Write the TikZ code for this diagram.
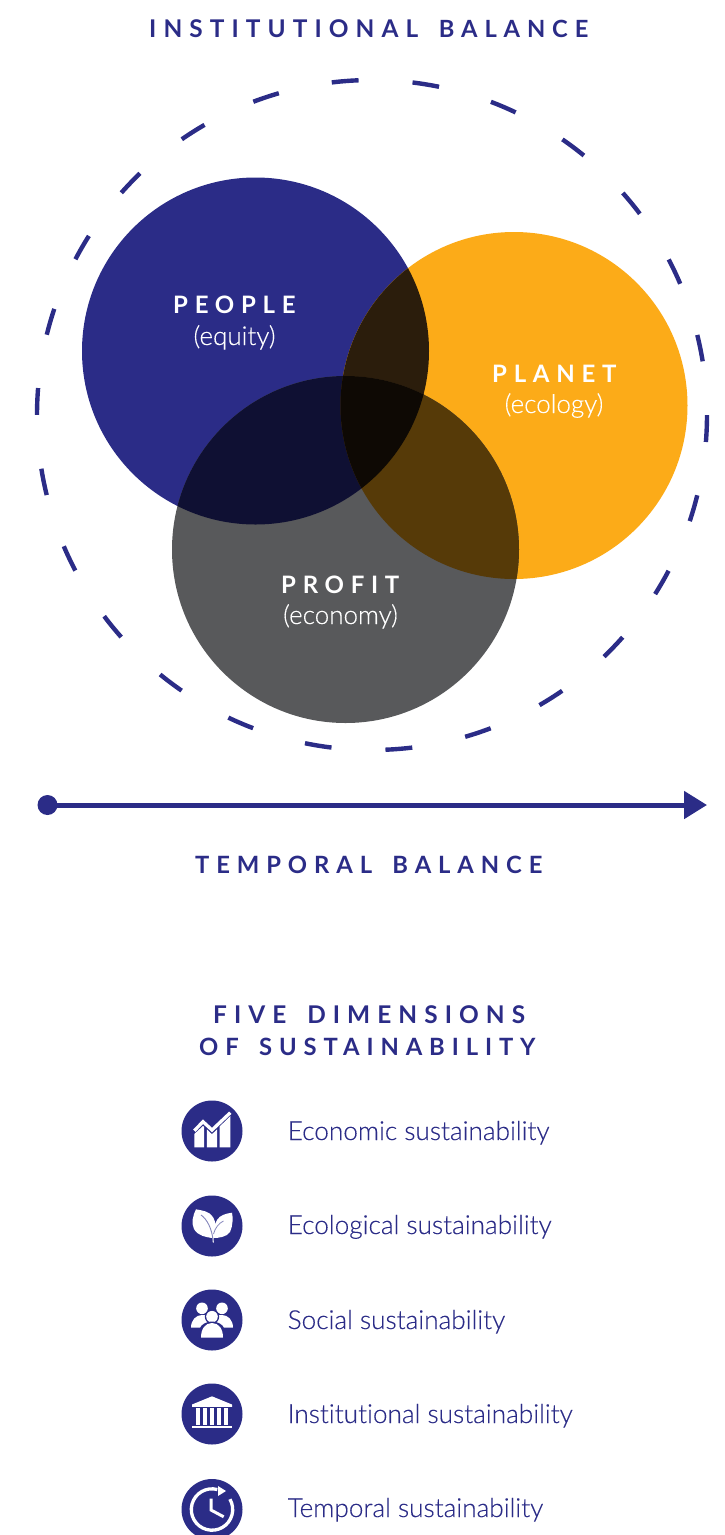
\documentclass[tikz,border=0pt]{standalone}
\usepackage{fontspec}
\setmainfont{Lato}
\newfontfamily\headf[LetterSpace=29,WordSpace=1.6]{Lato Bold}
\newfontfamily\capf[LetterSpace=28]{Lato Bold}
\newfontfamily\bodyf[Ligatures=NoCommon,FakeBold=0.25]{Lato Light}
\usetikzlibrary{arrows.meta}
\definecolor{navy}{HTML}{2B2C87}
\definecolor{amber}{HTML}{FCAB18}
\definecolor{slate}{HTML}{58595B}
\definecolor{ovNA}{HTML}{2B1D0C}
\definecolor{ovNS}{HTML}{0F1033}
\definecolor{ovAS}{HTML}{563A08}
\definecolor{ovAll}{HTML}{0E0904}
\definecolor{vein}{HTML}{8586BC}
\tikzset{
  x=1pt,y=1pt,
  venn/.style={circle,inner sep=0pt,minimum size=347pt,draw=none},
  head/.style={anchor=base west,inner sep=0pt,text=navy,font=\fontsize{24.4}{24}\headf},
  headb/.style={anchor=base west,inner sep=0pt,text=navy,font=\fontsize{23.8}{24}\headf},
  vcap/.style={anchor=base west,inner sep=0pt,text=white,font=\fontsize{24}{24}\capf},
  vsub/.style={anchor=base,inner sep=0pt,text=white,font=\fontsize{26}{26}\bodyf},
  item/.style={anchor=base west,inner sep=0pt,text=navy,font=\fontsize{26.2}{26}\bodyf},
  badge/.style={circle,fill=navy,inner sep=0pt,minimum size=61pt},
  ring/.style={draw=navy,line width=4.4pt},
}
\begin{document}
\begin{tikzpicture}
\useasboundingbox (0,0) rectangle (724,-1535);
% dashed ring
\coordinate (ringc) at (372,-415);
\foreach \k in {0,...,25}{
  \pgfmathsetmacro\st{94.6-13.846*\k+2.3}
  \draw[ring] (ringc) ++(\st:335) arc[start angle=\st,delta angle=-4.6,radius=335];
}
% venn
\node[venn,fill=navy] (people) at (255.5,-351) {};
\node[venn,fill=amber] (planet) at (514,-405.5) {};
\node[venn,fill=slate] (profit) at (345.5,-549.5) {};
\begin{scope}
  \clip (255.5,-351) circle[radius=173.5];
  \fill[ovNA] (514,-405.5) circle[radius=173.5];
  \fill[ovNS] (345.5,-549.5) circle[radius=173.5];
\end{scope}
\begin{scope}
  \clip (514,-405.5) circle[radius=173.5];
  \fill[ovAS] (345.5,-549.5) circle[radius=173.5];
\end{scope}
\begin{scope}
  \clip (255.5,-351) circle[radius=173.5];
  \clip (514,-405.5) circle[radius=173.5];
  \fill[ovAll] (345.5,-549.5) circle[radius=173.5];
\end{scope}
% labels
\node[head] (t1) at (149,-37) {INSTITUTIONAL {\fontsize{23.7}{24}\selectfont BALANCE}};
\node[vcap] (l1) at (173,-313) {PEOPLE};
\node[vsub] (s1) at (234.5,-345) {(equity)};
\node[vcap] (l2) at (492,-382) {PLANET};
\node[vsub] (s2) at (554,-413) {(ecology)};
\node[vcap] (l3) at (281,-593) {PROFIT};
\node[vsub] (s3) at (340.5,-624) {(economy)};
% temporal arrow
\node[circle,fill=navy,inner sep=0pt,minimum size=20pt] (dot) at (47.5,-805) {};
\coordinate (tip) at (707,-805);
\draw[navy,line width=5pt,shorten <=-2pt,-{Triangle[width=27pt,length=23pt]}] (dot) -- (tip);
\node[headb] (t2) at (195,-873) {TEMPORAL BALANCE};
\node[head] (t3) at (213,-1023) {FIVE DIMENSIONS};
\node[headb] (t4) at (199,-1055) {OF SUSTAINABILITY};
% list
\node[badge] (b1) at (212,-1131) {};
\node[badge] (b2) at (212,-1226) {};
\node[badge] (b3) at (212,-1320) {};
\node[badge] (b4) at (212,-1414) {};
\node[badge] (b5) at (212,-1509.5) {};
\node[item] (i1) at (287.5,-1140) {Economic sustainability};
\node[item] (i2) at (287.5,-1234) {Ecological sustainability};
\node[item] (i3) at (287.5,-1329) {Social sustainability};
\node[item] (i4) at (287.5,-1423) {Institutional sustainability};
\node[item] (i5) at (287.5,-1517) {Temporal sustainability};
% chart icon
\begin{scope}[shift={(b1.center)}]
  \fill[white] (-17.7,-16.3) -- (-17.7,-3) -- (-9,5) -- (-8,4.2) -- (-8,-16.3) -- cycle;
  \fill[white] (-5.2,-16.3) -- (-5.2,1.7) -- (0,-3.2) -- (5,1.7) -- (5,-16.3) -- cycle;
  \fill[white] (7.5,-16.3) -- (7.5,4.3) -- (18.3,15) -- (18.3,-16.3) -- cycle;
  \draw[white,line width=3.3pt,miter limit=4] (-17.7,0.3) -- (-9,9.3) -- (0,1) -- (18.3,18.3);
\end{scope}
% leaf icon
\begin{scope}[shift={(b2.center)}]
  \fill[white] (1.7,-12) .. controls (6,-12) and (15,-11) .. (18,-6) .. controls (21,0) and (21,9) .. (20,13.3) .. controls (14,12.5) and (8,11) .. (5,6) -- (2,0) -- cycle;
  \fill[white] (0,-12) .. controls (-6,-11) and (-14,-10) .. (-18,-3) .. controls (-21,3) and (-19,11) .. (-16,16.7) .. controls (-10,15.5) and (-3,15) .. (1,9) .. controls (4,4) and (4,-2) .. (3,-8) -- (2,-12) -- cycle;
  \draw[white,line width=1pt] (1,-12) -- (1.3,-16.5);
  \draw[vein,line width=0.9pt] (-11,11) .. controls (-5,7) and (0,-3) .. (1,-14);
  \draw[vein,line width=0.8pt] (11.5,5) .. controls (7,3) and (3,-2) .. (1.5,-8);
\end{scope}
% people icon
\begin{scope}[shift={(b3.center)}]
  \fill[white] (-10,11.7) circle[radius=5.8];
  \fill[white] (10,11.7) circle[radius=5.8];
  \fill[white] (-21,-7.7) .. controls (-21,0) and (-16,5) .. (-10,5) -- (10,5) .. controls (16,5) and (21,0) .. (21,-7.7) -- cycle;
  \fill[navy] (0,3.3) circle[radius=7.2];
  \fill[white] (0,3.3) circle[radius=5.8];
  \fill[navy] (-12.5,-18) -- (-12.5,-9) .. controls (-11,-4) and (-5,-1.5) .. (0,-1.5) .. controls (5,-1.5) and (11,-4) .. (12.5,-9) -- (12.5,-18) -- cycle;
  \fill[white] (-11,-17.7) .. controls (-11,-9) and (-7,-3) .. (0,-3) .. controls (7,-3) and (11,-9) .. (11,-17.7) -- cycle;
\end{scope}
% building icon
\begin{scope}[shift={(b4.center)}]
  \fill[white] (-20,9.5) -- (0,17.7) -- (20,9.5) -- (20,7.2) -- (-20,7.2) -- cycle;
  \fill[white] (-20,-11.7) rectangle (20,-14.3);
  \foreach \cx in {-14,-7,0,7,14}
    \fill[white] (\cx-2,6) rectangle (\cx+2,-11);
\end{scope}
% clock icon
\begin{scope}[shift={(b5.center)}]
  \draw[white,line width=3.3pt] (75:20.7) arc[start angle=75,delta angle=315,radius=20.7];
  \fill[white] (6,23.5) -- (14,18.5) -- (6,13.5) -- cycle;
  \draw[white,line width=3pt] (-1,11) -- (-1,-0.5) -- (11.7,-7.3);
\end{scope}
\end{tikzpicture}
\end{document}
